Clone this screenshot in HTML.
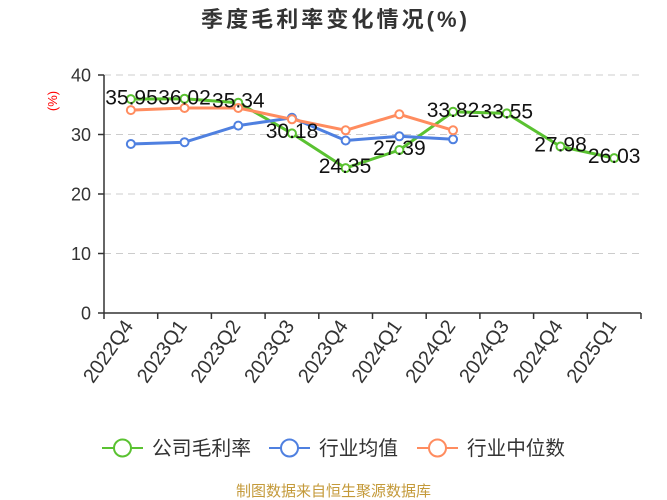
<!DOCTYPE html>
<html><head><meta charset="utf-8"><style>
html,body{margin:0;padding:0;background:#fff;}
svg{display:block;}
</style></head><body>
<svg width="667" height="500" viewBox="0 0 667 500" xmlns="http://www.w3.org/2000/svg" font-family="'Liberation Sans','Noto Sans CJK SC',sans-serif">
<rect width="667" height="500" fill="#fff"/>
<text x="201" y="27" font-size="22" font-weight="bold" fill="#333" textLength="266" lengthAdjust="spacing">季度毛利率变化情况(%)</text>
<!-- grid -->
<g stroke="#cccccc" stroke-width="1" stroke-dasharray="7 5">
<line x1="104" y1="75" x2="641" y2="75"/>
<line x1="104" y1="134.5" x2="641" y2="134.5"/>
<line x1="104" y1="194" x2="641" y2="194"/>
<line x1="104" y1="253.5" x2="641" y2="253.5"/>
</g>
<!-- axes -->
<g stroke="#333" stroke-width="1.5" fill="none">
<line x1="104" y1="75" x2="104" y2="319"/>
<line x1="104" y1="313" x2="641" y2="313"/>
<line x1="98" y1="75" x2="104" y2="75"/>
<line x1="98" y1="134.5" x2="104" y2="134.5"/>
<line x1="98" y1="194" x2="104" y2="194"/>
<line x1="98" y1="253.5" x2="104" y2="253.5"/>
<line x1="98" y1="313" x2="104" y2="313"/>
<line x1="157.7" y1="313" x2="157.7" y2="319"/>
<line x1="211.4" y1="313" x2="211.4" y2="319"/>
<line x1="265.1" y1="313" x2="265.1" y2="319"/>
<line x1="318.8" y1="313" x2="318.8" y2="319"/>
<line x1="372.5" y1="313" x2="372.5" y2="319"/>
<line x1="426.2" y1="313" x2="426.2" y2="319"/>
<line x1="479.9" y1="313" x2="479.9" y2="319"/>
<line x1="533.6" y1="313" x2="533.6" y2="319"/>
<line x1="587.3" y1="313" x2="587.3" y2="319"/>
<line x1="641" y1="313" x2="641" y2="319"/>
</g>
<g font-size="18" fill="#333" text-anchor="end">
<text x="91" y="81.5">40</text>
<text x="91" y="141">30</text>
<text x="91" y="200.5">20</text>
<text x="91" y="260">10</text>
<text x="91" y="319.5">0</text>
</g>
<text transform="translate(57,101) rotate(-90)" font-size="13" fill="#ff0000" text-anchor="middle">(%)</text>
<!-- x labels -->
<g font-size="20" fill="#333" text-anchor="end">
<text transform="translate(134,326) rotate(-55)">2022Q4</text>
<text transform="translate(187.7,326) rotate(-55)">2023Q1</text>
<text transform="translate(241.4,326) rotate(-55)">2023Q2</text>
<text transform="translate(295.1,326) rotate(-55)">2023Q3</text>
<text transform="translate(348.8,326) rotate(-55)">2023Q4</text>
<text transform="translate(402.5,326) rotate(-55)">2024Q1</text>
<text transform="translate(456.2,326) rotate(-55)">2024Q2</text>
<text transform="translate(509.9,326) rotate(-55)">2024Q3</text>
<text transform="translate(563.6,326) rotate(-55)">2024Q4</text>
<text transform="translate(617.3,326) rotate(-55)">2025Q1</text>
</g>
<!-- series -->
<polyline fill="none" stroke="#5ac231" stroke-width="3" stroke-linejoin="round" points="130.85,99.1 184.55,98.7 238.25,102.7 291.95,133.4 345.65,168.1 399.35,150.0 453.05,111.8 506.75,113.4 560.45,146.5 614.15,158.1"/>
<g fill="#fff" stroke="#5ac231" stroke-width="2">
<circle cx="130.85" cy="99.1" r="4"/><circle cx="184.55" cy="98.7" r="4"/><circle cx="238.25" cy="102.7" r="4"/><circle cx="291.95" cy="133.4" r="4"/><circle cx="345.65" cy="168.1" r="4"/><circle cx="399.35" cy="150.0" r="4"/><circle cx="453.05" cy="111.8" r="4"/><circle cx="506.75" cy="113.4" r="4"/><circle cx="560.45" cy="146.5" r="4"/><circle cx="614.15" cy="158.1" r="4"/>
</g>
<polyline fill="none" stroke="#4f80e0" stroke-width="3" stroke-linejoin="round" points="130.85,144.0 184.55,142.2 238.25,125.6 291.95,117.8 345.65,140.5 399.35,136.3 453.05,139.3"/>
<g fill="#fff" stroke="#4f80e0" stroke-width="2">
<circle cx="130.85" cy="144.0" r="4"/><circle cx="184.55" cy="142.2" r="4"/><circle cx="238.25" cy="125.6" r="4"/><circle cx="291.95" cy="117.8" r="4"/><circle cx="345.65" cy="140.5" r="4"/><circle cx="399.35" cy="136.3" r="4"/><circle cx="453.05" cy="139.3" r="4"/>
</g>
<polyline fill="none" stroke="#ff8c5f" stroke-width="3" stroke-linejoin="round" points="130.85,110.1 184.55,108.0 238.25,108.0 291.95,119.3 345.65,130.3 399.35,114.3 453.05,130.3"/>
<g fill="#fff" stroke="#ff8c5f" stroke-width="2">
<circle cx="130.85" cy="110.1" r="4"/><circle cx="184.55" cy="108.0" r="4"/><circle cx="238.25" cy="108.0" r="4"/><circle cx="291.95" cy="119.3" r="4"/><circle cx="345.65" cy="130.3" r="4"/><circle cx="399.35" cy="114.3" r="4"/><circle cx="453.05" cy="130.3" r="4"/>
</g>
<!-- data labels -->
<g font-size="21" fill="#111" text-anchor="middle">
<text x="131.5" y="104.5">35.95</text>
<text x="184.5" y="104.5">36.02</text>
<text x="238.3" y="107.5">35.34</text>
<text x="292" y="138">30.18</text>
<text x="345" y="173">24.35</text>
<text x="399.4" y="155">27.39</text>
<text x="453" y="117">33.82</text>
<text x="506.8" y="118.5">33.55</text>
<text x="560.5" y="151.5">27.98</text>
<text x="614.2" y="163">26.03</text>
</g>
<!-- legend -->
<g stroke-width="2" fill="#fff">
<line x1="102" y1="448" x2="143" y2="448" stroke="#5ac231"/>
<circle cx="122.5" cy="448" r="8.5" stroke="#5ac231"/>
<line x1="269" y1="448" x2="310" y2="448" stroke="#4f80e0"/>
<circle cx="289.5" cy="448" r="8.5" stroke="#4f80e0"/>
<line x1="417" y1="448" x2="458" y2="448" stroke="#ff8c5f"/>
<circle cx="437.5" cy="448" r="8.5" stroke="#ff8c5f"/>
</g>
<g font-size="20" fill="#333">
<text x="152" y="455" textLength="99" lengthAdjust="spacingAndGlyphs">公司毛利率</text>
<text x="319" y="455" textLength="79" lengthAdjust="spacingAndGlyphs">行业均值</text>
<text x="467" y="455" textLength="98" lengthAdjust="spacingAndGlyphs">行业中位数</text>
</g>
<text x="236" y="496" font-size="15" fill="#c49a3a" textLength="195" lengthAdjust="spacingAndGlyphs">制图数据来自恒生聚源数据库</text>
</svg>
</body></html>
